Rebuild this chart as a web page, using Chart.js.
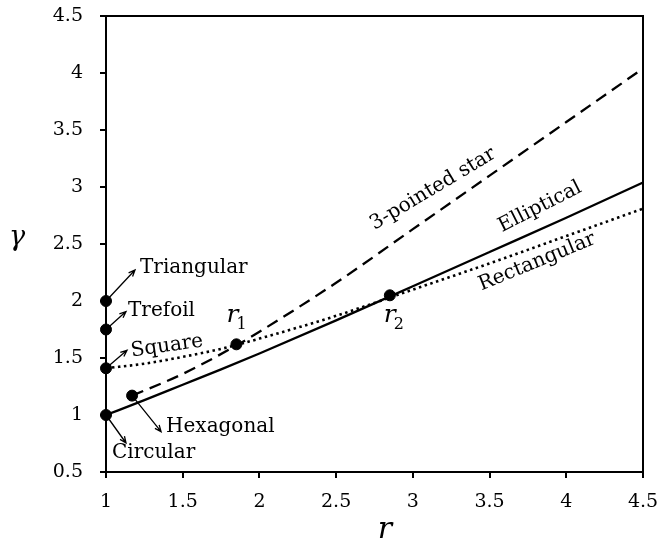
<!DOCTYPE html>
<html>
<head>
<meta charset="utf-8">
<script src="https://cdn.jsdelivr.net/npm/chart.js@4"></script>
<style>
  html, body { margin: 0; padding: 0; background: #fff; }
  #wrap { width: 659px; height: 541px; }
</style>
</head>
<body>
<div id="wrap"><canvas id="gammaChart" width="659" height="541"></canvas></div>
<script>
// gamma against r for the three families of cross sections
const rGrid = [1, 1.25, 1.5, 1.75, 2, 2.5, 3, 3.5, 4, 4.5];
const gammaElliptical = [1.0, 1.13, 1.265, 1.40, 1.54, 1.83, 2.13, 2.43, 2.73, 3.04];
const gammaRectangular = [1.41, 1.45, 1.51, 1.58, 1.67, 1.87, 2.10, 2.33, 2.57, 2.81];

const rStar = [1.17, 1.5, 1.85, 2, 2.5, 3, 3.5, 4, 4.5];
const gammaStar = [1.17, 1.36, 1.61, 1.73, 2.16, 2.63, 3.10, 3.57, 4.04];

// single shapes and the two crossing points
const shapeNames = ['Circular', 'Square', 'Trefoil', 'Triangular', 'Hexagonal', 'r1', 'r2'];
const shapeR = [1, 1, 1, 1, 1.17, 1.85, 2.85];
const shapeGamma = [1, 1.41, 1.75, 2, 1.17, 1.62, 2.05];

const xTicks = [1, 1.5, 2, 2.5, 3, 3.5, 4, 4.5];
const yTicks = [0.5, 1, 1.5, 2, 2.5, 3, 3.5, 4, 4.5];

const serif = '"DejaVu Serif", "Liberation Serif", serif';

const toPts = (xs, ys) => xs.map((x, i) => ({x: x, y: ys[i]}));

// text, arrows and frame drawn over the plot
const annotate = {
  id: 'annotate',
  afterDraw(chart) {
    const ctx = chart.ctx;
    const xs = chart.scales.x, ys = chart.scales.y;
    const area = chart.chartArea;
    const px = i => xs.getPixelForValue(shapeR[i]);
    const py = i => ys.getPixelForValue(shapeGamma[i]);

    ctx.save();
    ctx.strokeStyle = '#000';
    ctx.lineWidth = 2;
    ctx.strokeRect(area.left, area.top, area.right - area.left, area.bottom - area.top);

    function arrow(x0, y0, x1, y1) {
      const a = Math.atan2(y1 - y0, x1 - x0);
      const h = 7;
      ctx.lineWidth = 1.3;
      ctx.beginPath();
      ctx.moveTo(x0, y0);
      ctx.lineTo(x1, y1);
      ctx.moveTo(x1 - h * Math.cos(a - 0.4), y1 - h * Math.sin(a - 0.4));
      ctx.lineTo(x1, y1);
      ctx.lineTo(x1 - h * Math.cos(a + 0.4), y1 - h * Math.sin(a + 0.4));
      ctx.stroke();
    }

    ctx.fillStyle = '#000';
    ctx.font = '20px ' + serif;
    ctx.textBaseline = 'middle';
    ctx.textAlign = 'left';

    // Circular
    arrow(px(0), py(0), px(0) + 20, py(0) + 28);
    ctx.fillText(shapeNames[0], px(0) + 6, py(0) + 38);
    // Square (label tilts a little)
    arrow(px(1), py(1), px(1) + 21, py(1) - 18);
    ctx.save();
    ctx.translate(px(1) + 25, py(1) - 17);
    ctx.rotate(-0.14);
    ctx.fillText(shapeNames[1], 0, 0);
    ctx.restore();
    // Trefoil
    arrow(px(2), py(2), px(2) + 20, py(2) - 18);
    ctx.fillText(shapeNames[2], px(2) + 22, py(2) - 19);
    // Triangular
    arrow(px(3), py(3), px(3) + 29, py(3) - 31);
    ctx.fillText(shapeNames[3], px(3) + 34, py(3) - 33);
    // Hexagonal
    arrow(px(4), py(4), px(4) + 29, py(4) + 36);
    ctx.fillText(shapeNames[4], px(4) + 34, py(4) + 31);

    // r1 and r2
    function rLabel(x, y, sub) {
      ctx.font = 'italic 25px ' + serif;
      ctx.textBaseline = 'alphabetic';
      ctx.fillText('r', x, y);
      ctx.font = '16px ' + serif;
      ctx.fillText(sub, x + 10, y + 7);
    }
    rLabel(px(5) - 10, py(5) - 22, '1');
    rLabel(px(6) - 6, py(6) + 27, '2');

    // curve names along the lines
    function along(text, x, y, ang) {
      ctx.save();
      ctx.font = '20px ' + serif;
      ctx.textAlign = 'center';
      ctx.textBaseline = 'middle';
      ctx.translate(x, y);
      ctx.rotate(ang);
      ctx.fillText(text, 0, 0);
      ctx.restore();
    }
    along('3-pointed star', 433, 189, -0.54);
    along('Elliptical', 540, 207, -0.47);
    along('Rectangular', 537, 262, -0.39);

    // axis titles
    ctx.textAlign = 'center';
    ctx.textBaseline = 'alphabetic';
    ctx.font = 'italic 27px ' + serif;
    ctx.fillText('γ', 17, 245);
    ctx.font = 'italic 30px ' + serif;
    ctx.fillText('r', 385, 538);
    ctx.restore();
  }
};

new Chart(document.getElementById('gammaChart'), {
  type: 'scatter',
  data: {
    datasets: [
      {
        label: 'Elliptical',
        data: toPts(rGrid, gammaElliptical),
        showLine: true,
        borderColor: '#000',
        borderWidth: 2.3,
        pointRadius: 0,
        cubicInterpolationMode: 'monotone'
      },
      {
        label: 'Rectangular',
        data: toPts(rGrid, gammaRectangular),
        showLine: true,
        borderColor: '#000',
        borderWidth: 2.6,
        borderDash: [2.5, 3.5],
        pointRadius: 0,
        cubicInterpolationMode: 'monotone'
      },
      {
        label: '3-pointed star',
        data: toPts(rStar, gammaStar),
        showLine: true,
        borderColor: '#000',
        borderWidth: 2.3,
        borderDash: [12, 7],
        pointRadius: 0,
        cubicInterpolationMode: 'monotone'
      },
      {
        label: 'shapes',
        data: toPts(shapeR, shapeGamma),
        showLine: false,
        pointRadius: 5.5,
        pointBackgroundColor: '#000',
        pointBorderColor: '#000',
        clip: false
      }
    ]
  },
  options: {
    responsive: false,
    animation: false,
    layout: { padding: { top: 16, right: 16, left: 0, bottom: 0 } },
    plugins: { legend: { display: false }, tooltip: { enabled: false } },
    scales: {
      x: {
        type: 'linear',
        min: 1, max: 4.5,
        afterFit: s => { s.height = 69; s.paddingLeft = 0; s.paddingRight = 0; },
        afterBuildTicks: s => { s.ticks = xTicks.map(v => ({value: v})); },
        ticks: { color: '#000', font: { family: serif, size: 19 }, padding: 13, callback: v => String(v) },
        grid: { drawOnChartArea: false, drawTicks: true, tickLength: 6, color: '#000', lineWidth: 2 },
        border: { display: true, color: '#000', width: 2 }
      },
      y: {
        type: 'linear',
        min: 0.5, max: 4.5,
        afterFit: s => { s.width = 106; s.paddingTop = 0; s.paddingBottom = 0; },
        afterBuildTicks: s => { s.ticks = yTicks.map(v => ({value: v})); },
        ticks: { color: '#000', font: { family: serif, size: 19 }, padding: 17, callback: v => String(v) },
        grid: { drawOnChartArea: false, drawTicks: true, tickLength: 6, color: '#000', lineWidth: 2 },
        border: { display: true, color: '#000', width: 2 }
      }
    }
  },
  plugins: [annotate]
});
</script>
</body>
</html>
